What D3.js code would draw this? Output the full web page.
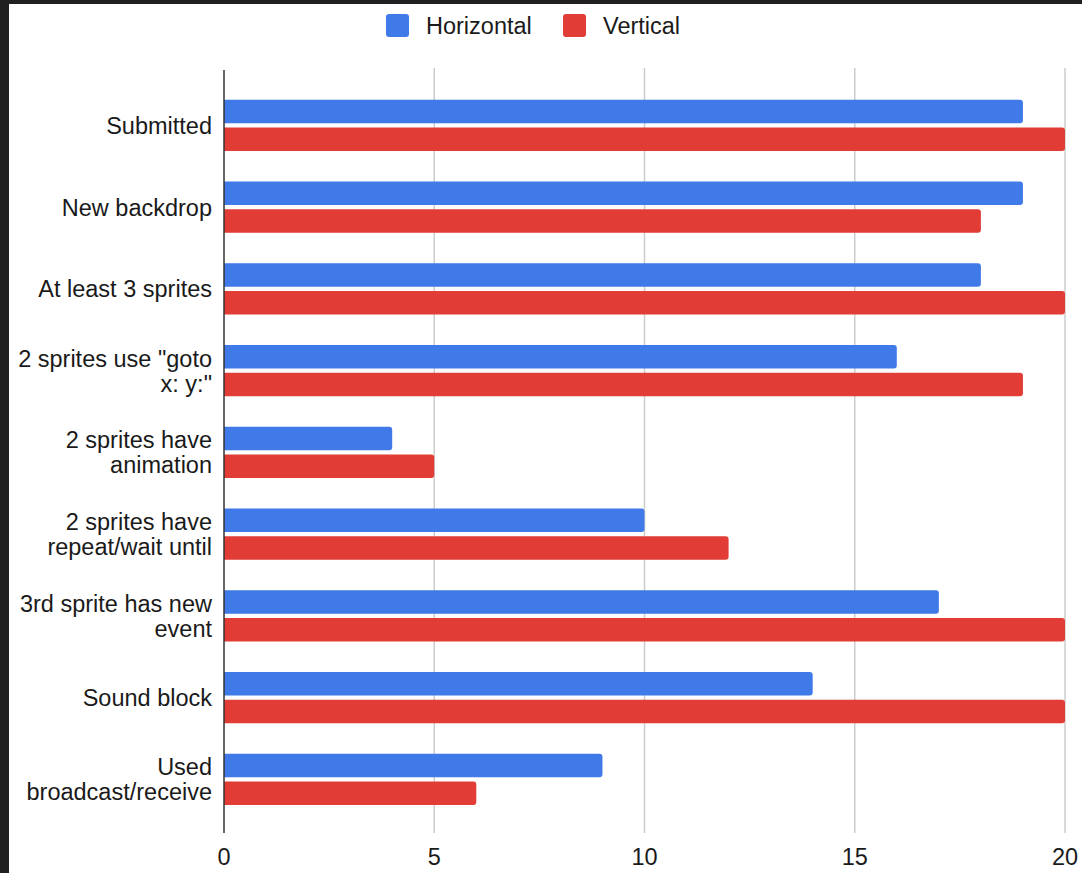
<!DOCTYPE html>
<html>
<head>
<meta charset="utf-8">
<script src="https://cdn.jsdelivr.net/npm/d3@7"></script>
<style>
  html, body { margin: 0; padding: 0; background: #202020; }
  svg { display: block; }
</style>
</head>
<body>
<div id="chart"></div>
<script>
const categories = [
  "Submitted",
  "New backdrop",
  "At least 3 sprites",
  "2 sprites use \"goto\nx: y:\"",
  "2 sprites have\nanimation",
  "2 sprites have\nrepeat/wait until",
  "3rd sprite has new\nevent",
  "Sound block",
  "Used\nbroadcast/receive"
]
const seriesNames = ["Horizontal", "Vertical"]
const horizontal = [19, 19, 18, 16, 4, 10, 17, 14, 9]
const vertical = [20, 18, 20, 19, 5, 12, 20, 20, 6]
const xTicks = [0, 5, 10, 15, 20]
const colors = ["#4079e8", "#e23c36"]

const width = 1082
const height = 873
const font = "'Liberation Sans', Arial, Helvetica, sans-serif"

const rows = categories.map((c, i) => ({ name: c, values: [horizontal[i], vertical[i]] }))

const svg = d3.select("#chart")
  .append("svg")
  .attr("width", width)
  .attr("height", height)
  .attr("viewBox", [0, 0, width, height])
  .style("font-family", font)

// white panel, dark frame left/top
svg.append("rect")
  .attr("x", 9).attr("y", 4)
  .attr("width", width - 9).attr("height", height - 4)
  .attr("fill", "#fff")

const x = d3.scaleLinear().domain([0, 20]).range([224, 1065])
const y = d3.scaleBand()
  .domain(categories)
  .range([84.5, 820.25])
  .paddingInner(0.376)
  .paddingOuter(0.188)
const y1 = d3.scaleBand()
  .domain(seriesNames)
  .range([0, y.bandwidth()])
  .paddingInner(0.1455)

// grid
svg.append("g")
  .selectAll("line")
  .data(xTicks.filter(d => d > 0))
  .join("line")
  .attr("x1", d => x(d)).attr("x2", d => x(d))
  .attr("y1", 68).attr("y2", 833)
  .attr("stroke", "#cccccc")
  .attr("stroke-width", 1.5)

// bars, rounded at the right end only
const barPath = (x0, y0, w, h, r) => {
  r = Math.min(r, w, h / 2)
  return `M${x0},${y0}H${x0 + w - r}Q${x0 + w},${y0} ${x0 + w},${y0 + r}` +
    `V${y0 + h - r}Q${x0 + w},${y0 + h} ${x0 + w - r},${y0 + h}H${x0}Z`
}

const group = svg.append("g")
  .selectAll("g")
  .data(rows)
  .join("g")
  .attr("transform", d => `translate(0,${y(d.name)})`)

group.selectAll("path")
  .data(d => d.values.map((v, i) => ({ key: seriesNames[i], value: v, i })))
  .join("path")
  .attr("d", d => barPath(x(0), y1(d.key), x(d.value) - x(0), y1.bandwidth(), 3))
  .attr("fill", d => colors[d.i])

// zero axis line
svg.append("line")
  .attr("x1", x(0)).attr("x2", x(0))
  .attr("y1", 70).attr("y2", 833)
  .attr("stroke", "#333")
  .attr("stroke-width", 1.5)

// category labels
const fs = 23.5
const lineH = 25
svg.append("g")
  .selectAll("text")
  .data(categories)
  .join("text")
  .attr("text-anchor", "end")
  .attr("font-size", fs)
  .attr("fill", "#1a1a1a")
  .each(function (d) {
    const lines = d.split("\n")
    const cy = y(d) + y.bandwidth() / 2
    const first = cy - (lines.length - 1) * lineH / 2 + 0.36 * fs
    d3.select(this).selectAll("tspan")
      .data(lines)
      .join("tspan")
      .attr("x", 212)
      .attr("y", (l, i) => first + i * lineH)
      .text(l => l)
  })

// x tick labels
svg.append("g")
  .selectAll("text")
  .data(xTicks)
  .join("text")
  .attr("x", d => x(d))
  .attr("y", 865)
  .attr("text-anchor", "middle")
  .attr("font-size", fs)
  .attr("fill", "#1a1a1a")
  .text(d => d)

// legend
const legendX = [386, 563]
const legend = svg.append("g")
  .selectAll("g")
  .data(seriesNames)
  .join("g")
  .attr("transform", (d, i) => `translate(${legendX[i]},14)`)
legend.append("rect")
  .attr("width", 23).attr("height", 23)
  .attr("rx", 3)
  .attr("fill", (d, i) => colors[i])
legend.append("text")
  .attr("x", 40)
  .attr("y", 20)
  .attr("font-size", fs)
  .attr("fill", "#1a1a1a")
  .text(d => d)
</script>
</body>
</html>
